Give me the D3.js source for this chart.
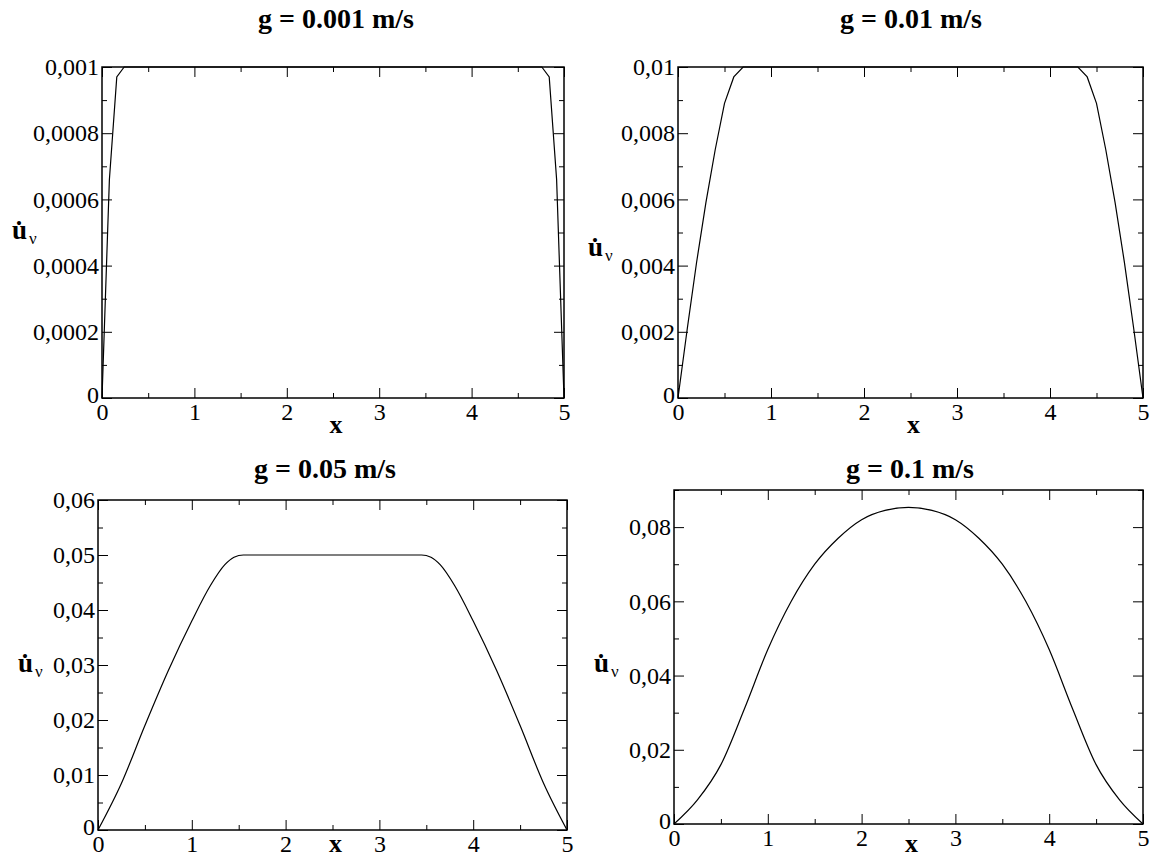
<!DOCTYPE html>
<html><head><meta charset="utf-8">
<script src="https://cdn.jsdelivr.net/npm/d3@7"></script>
<style>
body{margin:0;background:#fff;}
svg{display:block;}
</style></head><body>
<svg id="chart" width="1156" height="858"></svg>
<script>
// ---- data ----
const titles = ["g = 0.001 m/s", "g = 0.01 m/s", "g = 0.05 m/s", "g = 0.1 m/s"];
const xTicks = [0, 1, 2, 3, 4, 5];
const yTicks1 = [0, 0.0002, 0.0004, 0.0006, 0.0008, 0.001];
const yTicks2 = [0, 0.002, 0.004, 0.006, 0.008, 0.01];
const yTicks3 = [0, 0.01, 0.02, 0.03, 0.04, 0.05, 0.06];
const yTicks4 = [0, 0.02, 0.04, 0.06, 0.08];
const yMax = [0.001, 0.01, 0.06, 0.09];

const x1 = [0, 0.08, 0.16, 0.24, 4.76, 4.84, 4.92, 5];
const u1 = [0, 0.00066, 0.00097, 0.001, 0.001, 0.00097, 0.00066, 0];

const x2 = [0, 0.1, 0.2, 0.3, 0.4, 0.5, 0.6, 0.7, 4.3, 4.4, 4.5, 4.6, 4.7, 4.8, 4.9, 5];
const u2 = [0, 0.0021, 0.0041, 0.0059, 0.0075, 0.0089, 0.0097, 0.01, 0.01, 0.0097, 0.0089, 0.0075, 0.0059, 0.0041, 0.0021, 0];

const x3 = [0, 0.25, 0.5, 0.75, 1.0, 1.2, 1.35, 1.45, 1.55, 3.45, 3.55, 3.65, 3.8, 4.0, 4.25, 4.5, 4.75, 5];
const u3 = [0, 0.0085, 0.019, 0.029, 0.038, 0.0445, 0.0482, 0.0496, 0.05, 0.05, 0.0496, 0.0482, 0.0445, 0.038, 0.029, 0.019, 0.0085, 0];

const x4 = [0, 0.25, 0.5, 0.75, 1, 1.25, 1.5, 1.75, 2, 2.25, 2.5, 2.75, 3, 3.25, 3.5, 3.75, 4, 4.25, 4.5, 4.75, 5];
const u4 = [0, 0.0065, 0.016, 0.031, 0.047, 0.060, 0.070, 0.077, 0.082, 0.0845, 0.0853, 0.0845, 0.082, 0.077, 0.070, 0.060, 0.047, 0.031, 0.016, 0.0065, 0];

// ---- layout ----
const FONT = "'Liberation Serif', 'Times New Roman', 'DejaVu Serif', serif";
const fmt = v => v === 0 ? "0" : String(+v.toPrecision(6)).replace(".", ",");
const panels = [
  {l:102, r:564, t:67, b:398, xs:x1, ys:u1, yt:yTicks1, ymax:yMax[0], title:titles[0], tx:336, titleY:28, minor:0.0001, curve:d3.curveLinear, ylx:12, yly:239, xly:433},
  {l:678, r:1143, t:67, b:398, xs:x2, ys:u2, yt:yTicks2, ymax:yMax[1], title:titles[1], tx:911, titleY:28, minor:0.001, curve:d3.curveLinear, ylx:588, yly:256, xly:433},
  {l:98, r:567, t:500, b:830, xs:x3, ys:u3, yt:yTicks3, ymax:yMax[2], title:titles[2], tx:325, titleY:478, minor:0.005, curve:d3.curveMonotoneX, ylx:18, yly:672, xly:852},
  {l:674, r:1143, t:490, b:824, xs:x4, ys:u4, yt:yTicks4, ymax:yMax[3], title:titles[3], tx:910, titleY:478, minor:0.01, curve:d3.curveMonotoneX, ylx:594, yly:672, xly:852}
];

const svg = d3.select("#chart");
const FS = 24, MAJ = 10, MIN = 5;

panels.forEach((p, i) => {
  const x = d3.scaleLinear().domain([0, 5]).range([p.l, p.r]);
  const y = d3.scaleLinear().domain([0, p.ymax]).range([p.b, p.t]);
  const g = svg.append("g");

  const xMinor = d3.range(0.5, 5, 1);
  const xbg = g.append("g").attr("transform", `translate(0,${p.b})`)
    .call(d3.axisBottom(x).tickValues(xTicks).tickSize(-MAJ).tickPadding(5).tickFormat(d3.format("d")));
  g.append("g").attr("transform", `translate(0,${p.t})`)
    .call(d3.axisTop(x).tickValues(xTicks).tickSize(-MAJ).tickFormat(""));
  g.append("g").attr("transform", `translate(0,${p.b})`).call(d3.axisBottom(x).tickValues(xMinor).tickSize(-MIN).tickFormat(""));
  g.append("g").attr("transform", `translate(0,${p.t})`).call(d3.axisTop(x).tickValues(xMinor).tickSize(-MIN).tickFormat(""));

  const yMinorVals = d3.range(p.minor, p.ymax + 1e-12, p.minor * 2);
  const ylg = g.append("g").attr("transform", `translate(${p.l},0)`)
    .call(d3.axisLeft(y).tickValues(p.yt).tickSize(-MAJ).tickPadding(3).tickFormat(fmt));
  g.append("g").attr("transform", `translate(${p.r},0)`).call(d3.axisRight(y).tickValues(p.yt).tickSize(-MAJ).tickFormat(""));
  g.append("g").attr("transform", `translate(${p.l},0)`).call(d3.axisLeft(y).tickValues(yMinorVals).tickSize(-MIN).tickFormat(""));
  g.append("g").attr("transform", `translate(${p.r},0)`).call(d3.axisRight(y).tickValues(yMinorVals).tickSize(-MIN).tickFormat(""));

  g.selectAll(".domain").remove();
  g.selectAll(".tick line").attr("stroke", "#000").attr("stroke-width", 1);
  g.selectAll(".tick text").style("font-family", FONT).style("font-size", FS + "px").attr("fill", "#000");

  xbg.selectAll(".tick text").attr("dy", "0.71em");
  ylg.selectAll(".tick text").attr("dy", "0.32em");
  ylg.selectAll(".tick").filter(d => d === 0).select("text").attr("dy", "0.2em");

  g.append("rect").attr("x", p.l).attr("y", p.t).attr("width", p.r - p.l).attr("height", p.b - p.t)
    .attr("fill", "none").attr("stroke", "#000").attr("stroke-width", 1.5);

  const pts = p.xs.map((v, k) => [v, p.ys[k]]);
  g.append("path").datum(pts)
    .attr("d", d3.line().x(d => x(d[0])).y(d => y(d[1])).curve(p.curve))
    .attr("fill", "none").attr("stroke", "#000").attr("stroke-width", 1.2);

  g.append("text").attr("x", p.tx).attr("y", p.titleY)
    .attr("text-anchor", "middle").style("font-family", FONT).style("font-size", "28px").style("font-weight", "bold").text(p.title);

  g.append("text").attr("x", (p.l + p.r) / 2 + 3).attr("y", p.xly)
    .attr("text-anchor", "middle").style("font-family", FONT).style("font-size", "26px").style("font-weight", "bold").text("x");

  const yl2 = g.append("text").attr("x", p.ylx).attr("y", p.yly).style("font-family", FONT).style("font-size", "27px");
  yl2.append("tspan").style("font-weight", "bold").text("u\u0307");
  yl2.append("tspan").style("font-size", "17px").attr("dy", 5).attr("dx", 2).text("\u03bd");
});
</script></body></html>
